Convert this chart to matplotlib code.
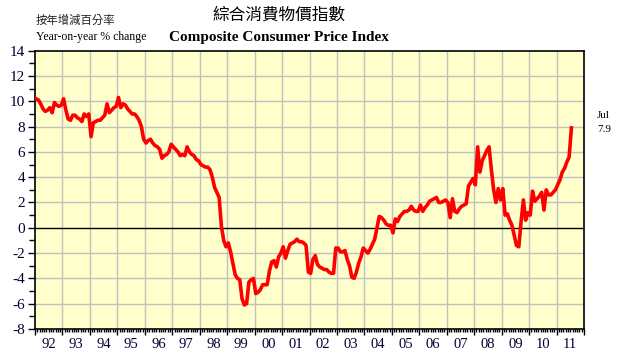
import numpy as np
import matplotlib
matplotlib.use('Agg')
import matplotlib.pyplot as plt
from matplotlib.ticker import MultipleLocator, FixedLocator, FuncFormatter

# Composite CPI, year-on-year % change, monthly
years = list(range(1992, 2012))
year_labels = ['92', '93', '94', '95', '96', '97', '98', '99', '00', '01',
               '02', '03', '04', '05', '06', '07', '08', '09', '10', '11']

cpi_1992 = [10.2, 10.1, 9.8, 9.4, 9.2, 9.3, 9.5, 9.1, 9.9, 9.7, 9.6, 9.7]
cpi_1993 = [10.2, 9.3, 8.6, 8.5, 8.9, 8.9, 8.7, 8.6, 8.4, 9.0, 8.8, 9.0]
cpi_1994 = [7.2, 8.3, 8.4, 8.5, 8.5, 8.7, 8.9, 9.8, 9.1, 9.3, 9.5, 9.6]
cpi_1995 = [10.3, 9.5, 9.8, 9.7, 9.4, 9.2, 9.0, 9.0, 8.8, 8.5, 8.0, 7.0]
cpi_1996 = [6.7, 6.9, 7.0, 6.7, 6.5, 6.4, 6.2, 5.5, 5.7, 5.8, 6.0, 6.6]
cpi_1997 = [6.4, 6.2, 6.0, 5.7, 5.8, 5.7, 6.4, 6.0, 5.8, 5.7, 5.4, 5.3]
cpi_1998 = [5.0, 4.9, 4.8, 4.8, 4.6, 4.0, 3.2, 2.8, 2.4, 0.1, -1.0, -1.5]
cpi_1999 = [-1.2, -1.9, -2.8, -3.7, -4.0, -4.1, -5.6, -6.1, -6.0, -4.3, -4.1, -4.0]
cpi_2000 = [-5.2, -5.1, -4.9, -4.5, -4.5, -4.5, -3.4, -2.7, -2.6, -3.1, -2.3, -2.0]
cpi_2001 = [-1.5, -2.4, -1.8, -1.3, -1.2, -1.1, -0.9, -1.1, -1.1, -1.2, -1.4, -3.5]
cpi_2002 = [-3.6, -2.5, -2.2, -2.9, -3.1, -3.2, -3.3, -3.3, -3.5, -3.6, -3.6, -1.6]
cpi_2003 = [-1.6, -1.9, -1.9, -1.8, -2.5, -3.0, -3.9, -4.0, -3.5, -2.8, -2.3, -1.6]
cpi_2004 = [-1.8, -2.0, -1.7, -1.3, -0.9, 0.0, 0.9, 0.8, 0.6, 0.3, 0.2, 0.2]
cpi_2005 = [-0.4, 0.7, 0.5, 0.9, 1.1, 1.3, 1.3, 1.4, 1.7, 1.4, 1.3, 1.3]
cpi_2006 = [1.8, 1.3, 1.6, 1.8, 2.1, 2.2, 2.3, 2.4, 2.0, 2.0, 2.1, 2.2]
cpi_2007 = [2.0, 0.8, 2.3, 1.3, 1.2, 1.5, 1.7, 1.8, 1.9, 3.3, 3.6, 3.9]
cpi_2008 = [3.4, 6.4, 4.4, 5.3, 5.7, 6.1, 6.4, 4.6, 3.0, 2.0, 3.1, 2.2]
cpi_2009 = [3.1, 1.0, 1.1, 0.6, 0.2, -0.6, -1.4, -1.5, 0.5, 2.2, 0.6, 1.2]
cpi_2010 = [1.0, 2.9, 2.1, 2.3, 2.5, 2.8, 1.4, 3.0, 2.6, 2.6, 2.8, 3.0]
cpi_2011 = [3.4, 3.8, 4.4, 4.7, 5.2, 5.6, 7.9]

all_years = [cpi_1992, cpi_1993, cpi_1994, cpi_1995, cpi_1996, cpi_1997,
             cpi_1998, cpi_1999, cpi_2000, cpi_2001, cpi_2002, cpi_2003,
             cpi_2004, cpi_2005, cpi_2006, cpi_2007, cpi_2008, cpi_2009,
             cpi_2010, cpi_2011]

# month mid-points as decimal years
t, y = [], []
for yr, vals in zip(years, all_years):
    for m, v in enumerate(vals):
        t.append(yr + (m + 0.5) / 12)
        y.append(v)
t = np.array(t)
y = np.array(y)

plt.rcParams['font.family'] = ['Liberation Serif', 'DejaVu Serif']
plt.rcParams['axes.unicode_minus'] = False
cjk = ['Noto Sans CJK TC', 'DejaVu Sans']
txt_col = '#000033'

fig = plt.figure(figsize=(6.17, 3.57), dpi=100)
ax = fig.add_axes([35 / 617, 1 - 329 / 357, 549 / 617, (329 - 50.7) / 357])
ax.set_facecolor('#FFFFCC')

ax.set_xlim(1992, 2012)
ax.set_ylim(-8, 14)

# grid
for yr in years[1:]:
    ax.axvline(yr, color='#C0C0C0', lw=1.0, zorder=1)
for v in range(-6, 14, 2):
    if v != 0:
        ax.axhline(v, color='#C0C0C0', lw=1.0, zorder=1)
ax.axhline(0, color='black', lw=1.0, zorder=2)

ax.plot(t, y, color='#FF0000', lw=2.6, solid_joinstyle='round', zorder=3)

# y axis
ax.yaxis.set_major_locator(MultipleLocator(2))
ax.yaxis.set_minor_locator(MultipleLocator(1))
ax.tick_params(axis='y', which='major', length=5, width=1, labelsize=11,
               labelcolor=txt_col, pad=2)
ax.tick_params(axis='y', which='minor', length=4, width=1)

# x axis: year boundaries long ticks, monthly short ticks, labels mid-year
ax.xaxis.set_major_locator(FixedLocator(years + [2012]))
ax.xaxis.set_major_formatter(FuncFormatter(lambda v, p: ''))
months = [yr + k / 12 for yr in years for k in range(1, 12)]
ax.xaxis.set_minor_locator(FixedLocator(months))


def minor_fmt(v, p):
    k = int(round((v - int(v)) * 12))
    if k == 6:
        return year_labels[int(v) - 1992]
    return ''


ax.xaxis.set_minor_formatter(FuncFormatter(minor_fmt))
ax.tick_params(axis='x', which='major', length=4, width=1)
ax.tick_params(axis='x', which='minor', length=2.5, width=1, labelsize=10.5,
               labelcolor=txt_col, pad=4)

for s in ax.spines.values():
    s.set_color('black')
    s.set_linewidth(1.2)

# titles
fig.text(279 / 617, 1 - 15.5 / 357, '綜合消費物價指數', family=cjk,
         fontsize=12, ha='center', va='center', color='black')
fig.text(279 / 617, 1 - 38 / 357, 'Composite Consumer Price Index',
         fontsize=11, fontweight='bold', ha='center', va='center', color='black')
fig.text(36 / 617, 1 - 20 / 357, '按年增減百分率', family=cjk,
         fontsize=8.2, ha='left', va='center', color='#222222')
fig.text(36 / 617, 1 - 37 / 357, 'Year-on-year % change',
         fontsize=8.5, ha='left', va='center', color='black')

# last value annotation
fig.text(597 / 617, 1 - 116 / 357, 'Jul', fontsize=8, ha='left', va='center')
fig.text(597 / 617, 1 - 130 / 357, '7.9', fontsize=8, ha='left', va='center')

fig.savefig('out.png', dpi=100)
